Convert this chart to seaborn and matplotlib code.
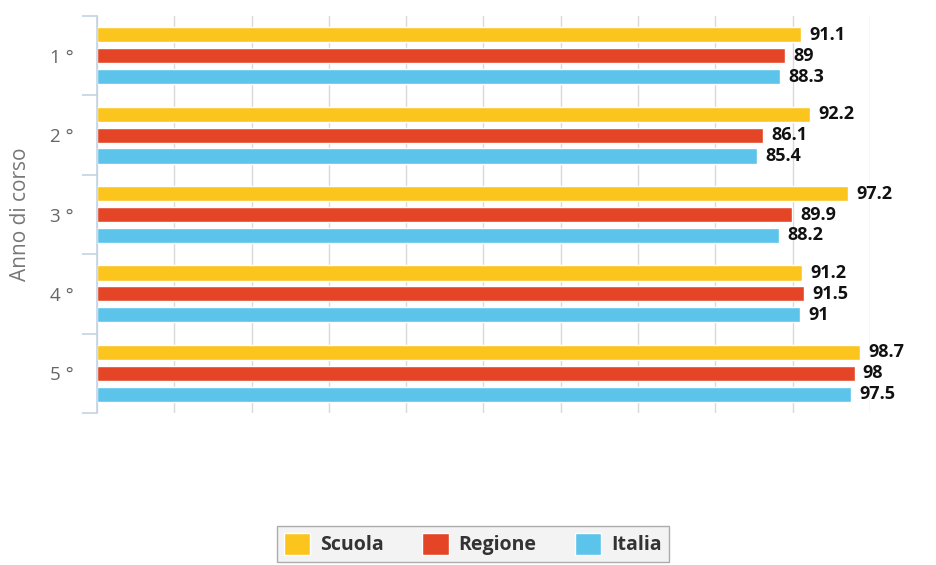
import matplotlib
matplotlib.use("Agg")
import matplotlib.pyplot as plt
import seaborn as sns
import pandas as pd
import numpy as np

categories = ["1 °", "2 °", "3 °", "4 °", "5 °"]
series = ["Scuola", "Regione", "Italia"]
scuola = [91.1, 92.2, 97.2, 91.2, 98.7]
regione = [89, 86.1, 89.9, 91.5, 98]
italia = [88.3, 85.4, 88.2, 91, 97.5]
colors = ["#FCC51E", "#E54527", "#5CC4EA"]

rows = []
for s, vals in zip(series, [scuola, regione, italia]):
    for c, v in zip(categories, vals):
        rows.append({"Anno": c, "Serie": s, "Valore": v})
df = pd.DataFrame(rows)

sns.set_style("white")
plt.rcParams["font.family"] = ["Open Sans", "DejaVu Sans"]

W, H = 936, 565
fig = plt.figure(figsize=(W / 100, H / 100), dpi=100)
ax = fig.add_axes([97 / W, 1 - 413 / H, (870 - 97) / W, (413 - 16) / H])

sns.barplot(data=df, x="Valore", y="Anno", hue="Serie", orient="h",
            palette=colors, width=0.79, gap=0.28, ax=ax, legend=True,
            saturation=1, errorbar=None)

ax.set_xlim(0, 100)
ax.set_ylim(4.5, -0.5)
ax.set_xticks(np.arange(0, 101, 10))
ax.tick_params(axis="x", length=0, labelbottom=False)
ax.grid(axis="x", color="#d9d9d9", linewidth=1)
ax.set_axisbelow(True)
ax.set_xlabel("")

for side in ["top", "right", "bottom"]:
    ax.spines[side].set_visible(False)
ax.spines["left"].set_color("#c3d3e3")
ax.spines["left"].set_linewidth(1.2)

ax.set_yticks(range(len(categories)))
ax.set_yticklabels(categories)
ax.tick_params(axis="y", which="major", left=False, length=0, pad=17, labelsize=13.5, labelcolor="#666666")
ax.set_yticks(np.arange(-0.5, len(categories), 1.0), minor=True)
ax.tick_params(axis="y", which="minor", left=True, length=11, width=1.2, color="#c3d3e3")

ax.set_ylabel("Anno di corso", fontsize=15, color="#777777")
ax.yaxis.set_label_coords((31 - 97) / (870 - 97), 0.5)

for cont in ax.containers:
    ax.bar_label(cont, labels=[f"{v:g}" for v in cont.datavalues], padding=6,
                 fontsize=13, fontweight="bold", color="#111111")

leg = ax.get_legend()
handles, labels = ax.get_legend_handles_labels()
leg.remove()
fl = fig.legend(handles, labels, loc="upper center", bbox_to_anchor=(0.505, 1 - 516 / H),
                ncol=3, frameon=True, handlelength=1.35, handleheight=1.4,
                columnspacing=2.0, handletextpad=0.5, borderpad=0.35,
                prop={"weight": "bold", "size": 14})
fl.get_frame().set_facecolor("#f0f0f0")
fl.get_frame().set_edgecolor("#999999")
fl.get_frame().set_boxstyle("square", pad=0)
for t in fl.get_texts():
    t.set_color("#333333")

fig.savefig("out.png", dpi=100)
